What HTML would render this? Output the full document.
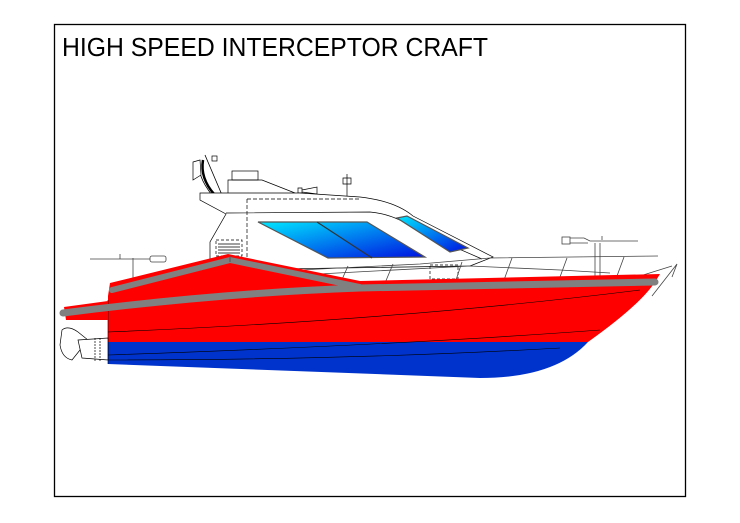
<!DOCTYPE html>
<html><head><style>html,body{margin:0;padding:0;background:#fff}svg{display:block}</style></head>
<body>
<svg width="740" height="523" viewBox="0 0 740 523" xmlns="http://www.w3.org/2000/svg">
<defs>
<linearGradient id="g" x1="0" y1="0" x2="1" y2="1"><stop offset="0" stop-color="#00e8ff"/><stop offset="1" stop-color="#0010e0"/></linearGradient>
</defs>
<rect x="54.5" y="24.5" width="631" height="472" fill="#fff" stroke="#000" stroke-width="1.3"/>
<text x="62" y="56" font-family="Liberation Sans, sans-serif" font-size="26" textLength="426" lengthAdjust="spacingAndGlyphs">HIGH SPEED INTERCEPTOR CRAFT</text>

<g stroke="#000" stroke-width="0.7" fill="none">
<path d="M205,155 L222,195 M200,160 Q196,175 212,195" stroke-width="0.8"/>
<path d="M203,160 Q200,178 214,194" stroke-width="2.5"/>
<path d="M193,162 L200,160 L201,175 L193,180 Z" fill="#fff"/>
<rect x="212" y="156" width="5" height="5" fill="#fff"/>
<rect x="232" y="171" width="26" height="9" fill="#fff"/>
<path d="M228,195 L228,180 L262,180 L295,193"/>
<path d="M298,188 h4 v5 h-4z M302,190 L317,187 L317,194 L302,192"/>
<path d="M347,174 V197 M343,178 h8 v6 h-8z"/>
<path d="M200,193 L300,193 L360,197 Q395,201 413,216 L493,257 L470,266 L210,270 L210,242 L226,214 L200,200 Z" fill="#fff"/>
<path d="M226,213 L370,212 Q395,214 420,232 L482,259"/>
<path d="M247,199 V258 M247,199 L360,199" stroke-dasharray="4,2"/>
<rect x="216" y="240" width="26" height="16" fill="#fff" stroke-dasharray="3,2"/>
<path d="M218,244 h22 M218,247 h22 M218,250 h22 M218,253 h22"/>
<rect x="430" y="265" width="28" height="14" stroke-dasharray="3,2"/>
</g>
<path d="M258,222 L367,222 L425,257 L328,258 Z" fill="url(#g)" stroke="#555" stroke-width="1.2"/>
<path d="M317,222 L372,258" stroke="#333" stroke-width="1.2"/>
<path d="M397,218 L407,216 L468,248 L450,252 Z" fill="url(#g)" stroke="#555" stroke-width="1.2"/>

<g stroke="#444" stroke-width="0.8" fill="none">
<path d="M300,270 L420,264 L490,258 L658,256"/>
<path d="M300,275 L470,266 L560,270 L610,273"/>
<path d="M340,284 L348,266 M385,283 L393,264 M455,283 L462,262 M504,280 L512,258 M560,277 L567,258 M617,276 L624,257"/>
<path d="M562,238 h22 l6,3 h48 M562,243 h26 M595,243 V278 M600,243 V278 M602,236 V240"/>
<rect x="562" y="237" width="8" height="7" fill="#fff"/>
<path d="M90,259 h60 M133,258 V280 M130,280 h8 M120,254 V259"/>
<rect x="150" y="256" width="16" height="6" rx="2" fill="#fff"/>
<path d="M652,296 L677,264 L672,277 M640,276 L672,266"/>
</g>

<!-- hull -->
<path d="M108,296 L110,283 L228,254 L360,281 L660,274 L655,282 Q640,305 588,342 L108,342 Z" fill="#ff0000"/>
<path d="M108,342 L588,342 Q555,378 480,378 L108,364 Z" fill="#0033cc"/>
<g stroke="#000" stroke-width="0.6" fill="none">
<path d="M108,332 Q400,320 640,290"/>
<path d="M108,355 Q400,345 600,330"/>
<path d="M108,360 Q350,360 560,348"/>
<path d="M108,300 V364"/>
</g>
<path d="M64,307 L108,301 L108,320 L66,320 Z" fill="#ff0000"/>
<polyline points="112,290 230,260 360,287" fill="none" stroke="#808080" stroke-width="6" stroke-linecap="round" stroke-linejoin="round"/>
<path d="M63,313 Q220,293 360,288 L655,282" fill="none" stroke="#808080" stroke-width="7" stroke-linecap="round"/>
<line x1="230" y1="256" x2="230" y2="262" stroke="#555" stroke-width="1"/>

<g stroke="#000" stroke-width="0.7" fill="#fff">
<path d="M62,330 Q68,325 78,332 L88,340 L80,350 L72,360 Q62,358 60,345 Z"/>
<path d="M78,340 L108,338 L108,360 L82,358 Z"/>
<path d="M95,338 V362 M100,338 V362" stroke-dasharray="2,1" fill="none"/>
</g>
</svg>
</body></html>
